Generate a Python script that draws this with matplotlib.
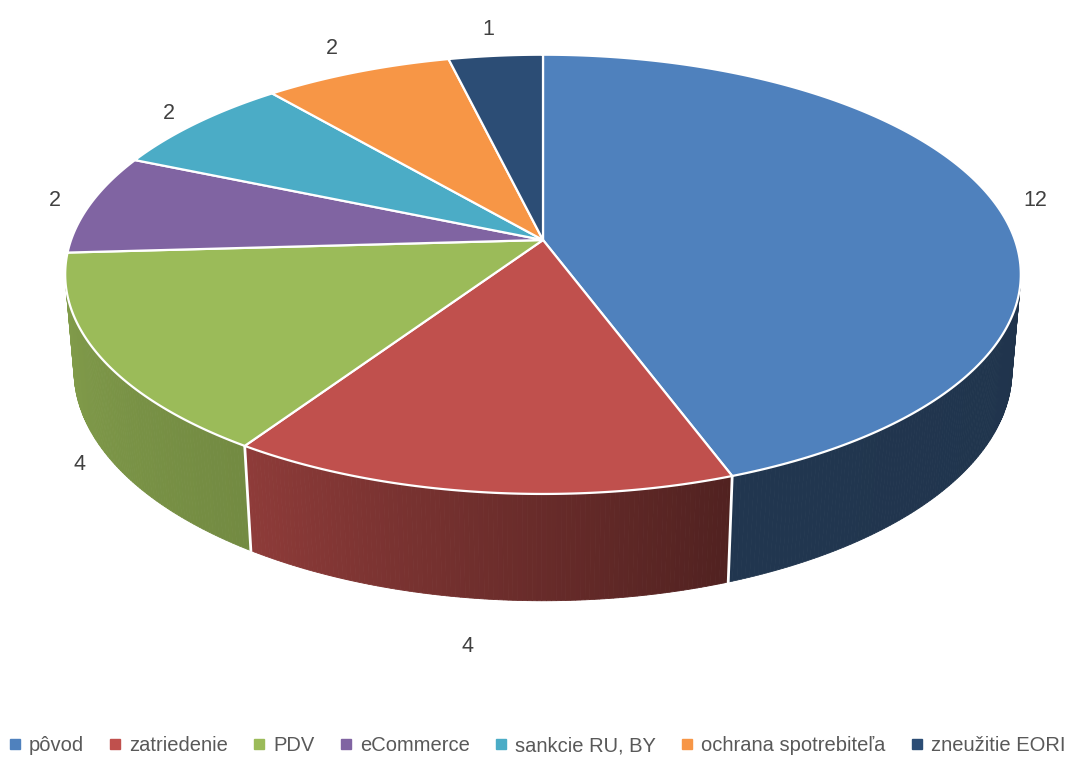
import numpy as np
import matplotlib
matplotlib.use('Agg')
import matplotlib.pyplot as plt
from matplotlib.lines import Line2D

categories = ['pôvod', 'zatriedenie', 'PDV', 'eCommerce', 'sankcie RU, BY',
              'ochrana spotrebiteľa', 'zneužitie EORI']
values = [12, 4, 4, 2, 2, 2, 1]

colors = ['#4F81BD', '#C0504D', '#9BBB59', '#8064A2', '#4BACC6', '#F79646', '#2C4D75']
label_r = [1.09, 1.15, 1.06, 1.08, 1.09, 1.16, 1.17]

plt.rcParams['font.family'] = ['Liberation Sans', 'DejaVu Sans']

# perspective camera for the 3d pie
ELEV = np.radians(27)
DIST = 5.7
DEPTH = 0.23
SCALE = 2690
CX, CY = 543, 240
ce, se = np.cos(ELEV), np.sin(ELEV)

# part of the rim that faces the camera
rim_lim = np.degrees(np.arcsin(1 / (DIST * ce)))
RIM_LO, RIM_HI = -180 + rim_lim, -rim_lim


def project(px, py, pz):
    vy = py + DIST * ce
    vz = pz - DIST * se
    f = vy * ce - vz * se
    u = vy * se + vz * ce
    return CX + SCALE * px / f, CY - SCALE * u / f


def shade(theta):
    # darker to the right, like the excel lighting
    return np.interp(theta, [-180, -123, -70, 0], [0.86, 0.74, 0.42, 0.40])


def rgb(c):
    c = c.lstrip('#')
    return np.array([int(c[i:i + 2], 16) for i in (0, 2, 4)]) / 255.0


fig = plt.figure(figsize=(10.74, 7.58), dpi=100)
ax = fig.add_axes([0, 0, 1, 1])
ax.set_xlim(0, 1074)
ax.set_ylim(758, 0)
ax.axis('off')

total = sum(values)
bounds = 90 - 360 * np.concatenate([[0], np.cumsum(values)]) / total

# sides (front half only)
for i, c in enumerate(colors):
    a0, a1 = bounds[i], bounds[i + 1]
    lo, hi = max(a1, RIM_LO), min(a0, RIM_HI)
    if lo >= hi:
        continue
    steps = np.linspace(lo, hi, max(2, int((hi - lo) * 2) + 1))
    base = rgb(c)
    for t0, t1 in zip(steps[:-1], steps[1:]):
        r0, r1 = np.radians(t0), np.radians(t1)
        pts = [project(np.cos(r0), np.sin(r0), 0), project(np.cos(r1), np.sin(r1), 0),
               project(np.cos(r1), np.sin(r1), -DEPTH), project(np.cos(r0), np.sin(r0), -DEPTH)]
        col = np.clip(base * shade((t0 + t1) / 2), 0, 1)
        ax.fill([p[0] for p in pts], [p[1] for p in pts], color=col, lw=0.6,
                edgecolor=col, zorder=1)

# white seams on the side
for b in bounds:
    if RIM_LO < b < RIM_HI:
        r = np.radians(b)
        x0, y0 = project(np.cos(r), np.sin(r), 0)
        x1, y1 = project(np.cos(r), np.sin(r), -DEPTH)
        ax.plot([x0, x1], [y0, y1], color='white', lw=2, zorder=2)

# top face
for i, c in enumerate(colors):
    t = np.radians(np.linspace(bounds[i], bounds[i + 1], 200))
    xs, ys = project(np.cos(t), np.sin(t), 0)
    cx, cy = project(0, 0, 0)
    ax.fill(np.r_[cx, xs], np.r_[cy, ys], color=c, edgecolor='white', lw=1.6,
            joinstyle='round', zorder=3)

# data labels
for i, v in enumerate(values):
    mid = np.radians((bounds[i] + bounds[i + 1]) / 2)
    z = -DEPTH if np.sin(mid) < -0.3 else 0
    lx, ly = project(label_r[i] * np.cos(mid), label_r[i] * np.sin(mid), z)
    ax.text(lx, ly, str(v), ha='center', va='center', fontsize=15.5,
            color='#404040', zorder=4)

handles = [Line2D([], [], marker='s', linestyle='', color=c, markersize=7) for c in colors]
leg = fig.legend(handles, categories, loc='lower center', ncol=7, frameon=False,
                 fontsize=14.5, handlelength=0.6, handletextpad=0.4, columnspacing=1.25,
                 bbox_to_anchor=(0.5, -0.015), borderpad=0.2)
for txt in leg.get_texts():
    txt.set_color('#595959')

fig.savefig('out.png', dpi=100)
